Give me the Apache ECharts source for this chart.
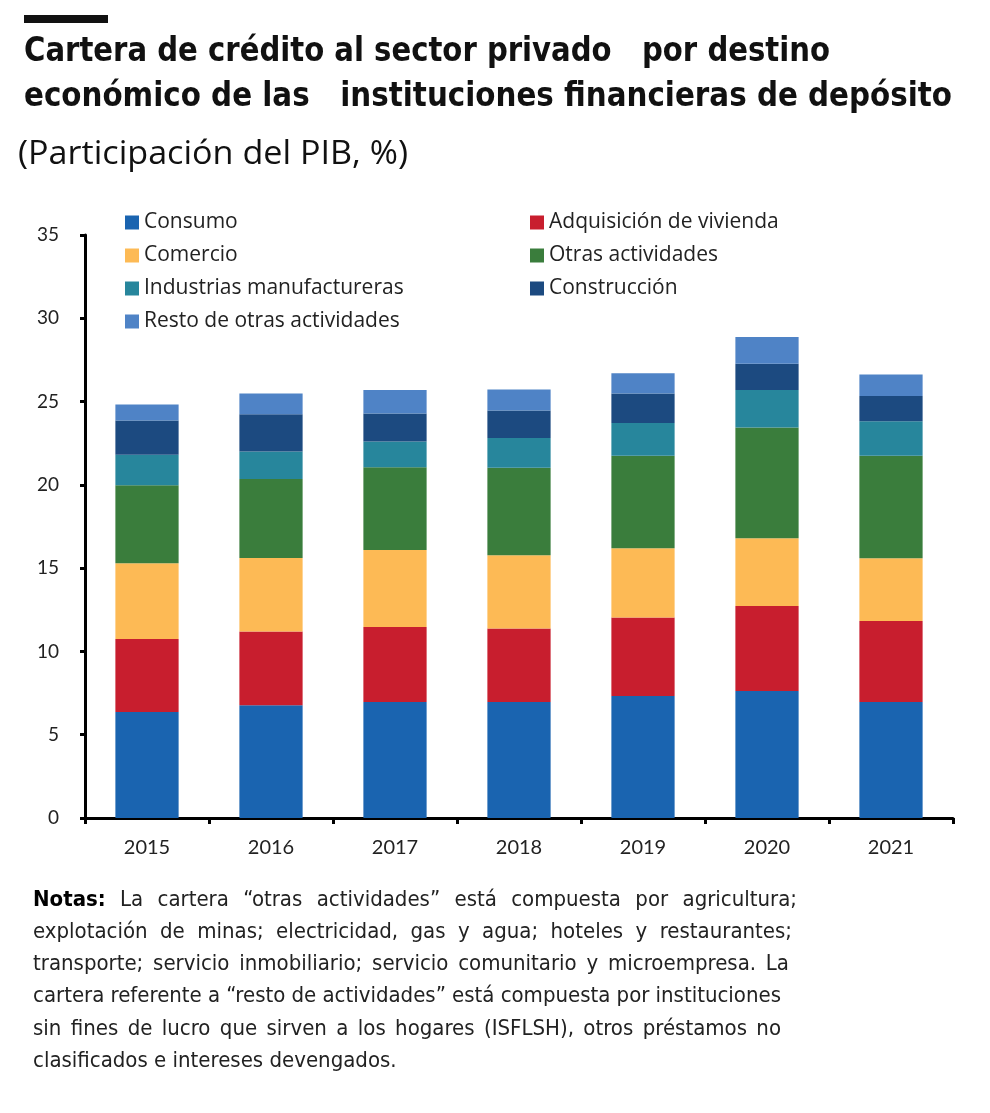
<!DOCTYPE html>
<html>
<head>
<meta charset="utf-8">
<script src="https://cdn.jsdelivr.net/npm/echarts@6/dist/echarts.min.js"></script>
<style>
html,body{margin:0;padding:0;background:#fff;}
#chart{width:990px;height:1113px;}
</style>
</head>
<body>
<div id="chart"></div>
<script>
const years = ['2015','2016','2017','2018','2019','2020','2021'];
const consumo      = [6.37, 6.77, 6.97, 6.97, 7.33, 7.63, 6.97];
const vivienda     = [4.37, 4.43, 4.49, 4.41, 4.71, 5.09, 4.85];
const comercio     = [4.55, 4.41, 4.63, 4.39, 4.15, 4.07, 3.77];
const otras        = [4.69, 4.74, 4.97, 5.25, 5.56, 6.65, 6.16];
const industrias   = [1.82, 1.65, 1.54, 1.80, 1.97, 2.26, 2.07];
const construccion = [2.06, 2.24, 1.68, 1.64, 1.76, 1.57, 1.52];
const resto        = [0.96, 1.24, 1.42, 1.26, 1.22, 1.60, 1.28];

const seriesNames = ['Consumo','Adquisición de vivienda','Comercio','Otras actividades','Industrias manufactureras','Construcción','Resto de otras actividades'];
const seriesData = [consumo, vivienda, comercio, otras, industrias, construccion, resto];
const colors = ['#1a64b0','#c81e2e','#fdba55','#3a7d3c','#27869c','#1c4a80','#4f83c6'];

const titleLines = ['Cartera de crédito al sector privado   por destino','económico de las   instituciones financieras de depósito'];
const subtitle = '(Participación del PIB, %)';
const notesLabel = 'Notas:';
const notesLines = [
  'La cartera “otras actividades” está compuesta por agricultura;',
  'explotación de minas; electricidad, gas y agua; hoteles y restaurantes;',
  'transporte; servicio inmobiliario; servicio comunitario y microempresa. La',
  'cartera referente a “resto de actividades” está compuesta por instituciones',
  'sin fines de lucro que sirven a los hogares (ISFLSH), otros préstamos no',
  'clasificados e intereses devengados.'
];

const condensed = '"DejaVu Sans Condensed", "Liberation Sans Narrow", sans-serif';
const base = 'Lato, "Noto Sans", sans-serif';
const legendFont = '"Open Sans", "Noto Sans", sans-serif';

const mctx = document.createElement('canvas').getContext('2d');
function measure(text, font) { mctx.font = font; return mctx.measureText(text).width; }

const chart = echarts.init(document.getElementById('chart'));

const titleFont = 'bold 33px ' + condensed;
const subFont = '32px ' + legendFont;
const titleTargets = [806, 928];
const graphics = [
  {type:'rect', shape:{x:24,y:15,width:84,height:8}, style:{fill:'#111'}},
  {type:'text', x:24, y:52, scaleX: titleTargets[0]/measure(titleLines[0], titleFont),
   style:{text:titleLines[0], font:titleFont, fill:'#111', verticalAlign:'middle'}},
  {type:'text', x:24, y:97, scaleX: titleTargets[1]/measure(titleLines[1], titleFont),
   style:{text:titleLines[1], font:titleFont, fill:'#111', verticalAlign:'middle'}},
  {type:'text', x:18, y:155, scaleX: 390/measure(subtitle, subFont),
   style:{text:subtitle, font:subFont, fill:'#111', verticalAlign:'middle'}}
];

const noteFont = '22px ' + condensed;
const noteBold = 'bold 22px ' + condensed;
const noteRight = [797, 792, 789, 781, 781];
notesLines.forEach((l, i) => {
  const y = 900 + i * 32.2;
  let words = l.split(' ');
  let fonts = words.map(() => noteFont);
  if (i === 0) { words = [notesLabel].concat(words); fonts = [noteBold].concat(fonts); }
  if (i < noteRight.length) {
    const widths = words.map((w, k) => measure(w, fonts[k]));
    const sum = widths.reduce((a, b) => a + b, 0);
    const gap = (noteRight[i] - 33 - sum) / (words.length - 1);
    let x = 33;
    words.forEach((w, k) => {
      graphics.push({type:'text', x:x, y:y, style:{text:w, font:fonts[k], fill:k===0&&i===0?'#000':'#222', verticalAlign:'middle'}});
      x += widths[k] + gap;
    });
  } else {
    graphics.push({type:'text', x:33, y:y, style:{text:l, font:noteFont, fill:'#222', verticalAlign:'middle'}});
  }
});

chart.setOption({
  animation:false,
  backgroundColor:'#fff',
  color: colors,
  grid:{left:85, right:37, top:235, bottom:295, containLabel:false},
  legend:[
    {orient:'vertical', left:120, top:207, itemWidth:14, itemHeight:14, itemGap:12,
     icon:'rect', data:[seriesNames[0],seriesNames[2],seriesNames[4],seriesNames[6]],
     textStyle:{fontFamily:legendFont, fontSize:21, lineHeight:21, color:'#222'}},
    {orient:'vertical', left:525, top:207, itemWidth:14, itemHeight:14, itemGap:12,
     icon:'rect', data:[seriesNames[1],seriesNames[3],seriesNames[5]],
     textStyle:{fontFamily:legendFont, fontSize:21, lineHeight:21, color:'#222'}}
  ],
  xAxis:{type:'category', data:years,
    axisLine:{lineStyle:{color:'#000', width:3}},
    axisTick:{show:true, length:6, lineStyle:{color:'#000', width:3}},
    axisLabel:{fontFamily:base, fontSize:20, color:'#222', margin:20}},
  yAxis:{type:'value', min:0, max:35, interval:5,
    splitLine:{show:false},
    axisLine:{show:true, lineStyle:{color:'#000', width:3}},
    axisTick:{show:true, length:5, lineStyle:{color:'#000', width:3}},
    axisLabel:{fontFamily:base, fontSize:19, color:'#222', margin:26}},
  series: seriesNames.map((n, i) => ({
    name:n, type:'bar', stack:'total', data:seriesData[i], barWidth:'51%',
    itemStyle:{color:colors[i]}
  })),
  graphic: graphics
});
</script>
</body>
</html>
